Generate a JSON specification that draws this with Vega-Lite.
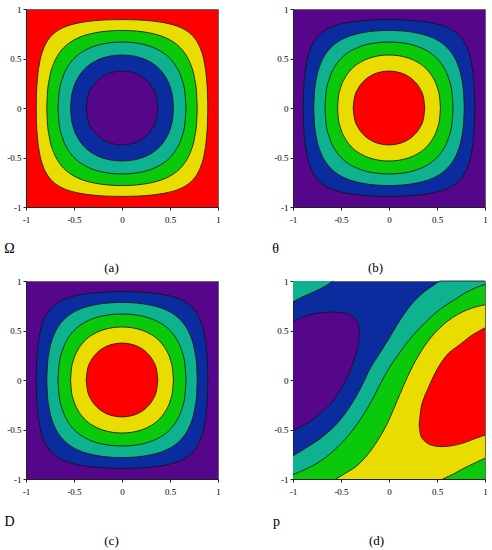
{
"$schema": "https://vega.github.io/schema/vega-lite/v6.json",
"padding": {"left": 3, "top": 4, "right": 0, "bottom": 0},
"bounds": "flush",
"columns": 2,
"spacing": {"row": 74, "column": 75},
"config": {
  "view": {"stroke": "#666", "strokeWidth": 1},
  "axis": {"labelFont": "Liberation Serif", "labelFontSize": 9, "labelColor": "#000", "tickSize": 3, "tickColor": "#222", "domainColor": "#222", "titleFont": "Liberation Serif", "titleFontSize": 13, "titleFontWeight": "normal", "titleColor": "#000", "labelFlush": false, "labelOverlap": false, "grid": false, "titleAlign": "center", "titleBaseline": "middle"},
  "axisX": {"labelPadding": 5},
  "axisY": {"labelPadding": 2}
},
"datasets": {
"rings": [
{"l":1,"x":-0.8934,"hi":0,"lo":0},{"l":1,"x":-0.8903,"hi":0.15,"lo":-0.15},{"l":1,"x":-0.8802,"hi":0.3,"lo":-0.3},{"l":1,"x":-0.8594,"hi":0.45,"lo":-0.45},{"l":1,"x":-0.817,"hi":0.6,"lo":-0.6},{"l":1,"x":-0.7816,"hi":0.67,"lo":-0.67},{"l":1,"x":-0.7323,"hi":0.7323,"lo":-0.7323},{"l":1,"x":-0.67,"hi":0.7816,"lo":-0.7816},{"l":1,"x":-0.6,"hi":0.817,"lo":-0.817},{"l":1,"x":-0.45,"hi":0.8594,"lo":-0.8594},{"l":1,"x":-0.3,"hi":0.8802,"lo":-0.8802},{"l":1,"x":-0.15,"hi":0.8903,"lo":-0.8903},{"l":1,"x":0,"hi":0.8934,"lo":-0.8934},{"l":1,"x":0.15,"hi":0.8903,"lo":-0.8903},{"l":1,"x":0.3,"hi":0.8802,"lo":-0.8802},{"l":1,"x":0.45,"hi":0.8594,"lo":-0.8594},{"l":1,"x":0.6,"hi":0.817,"lo":-0.817},{"l":1,"x":0.67,"hi":0.7816,"lo":-0.7816},{"l":1,"x":0.7323,"hi":0.7323,"lo":-0.7323},{"l":1,"x":0.7816,"hi":0.67,"lo":-0.67},{"l":1,"x":0.817,"hi":0.6,"lo":-0.6},{"l":1,"x":0.8594,"hi":0.45,"lo":-0.45},{"l":1,"x":0.8802,"hi":0.3,"lo":-0.3},{"l":1,"x":0.8903,"hi":0.15,"lo":-0.15},{"l":1,"x":0.8934,"hi":0,"lo":0},
{"l":2,"x":-0.7837,"hi":0,"lo":0},{"l":2,"x":-0.7772,"hi":0.15,"lo":-0.15},{"l":2,"x":-0.7558,"hi":0.3,"lo":-0.3},{"l":2,"x":-0.7111,"hi":0.45,"lo":-0.45},{"l":2,"x":-0.6762,"hi":0.52,"lo":-0.52},{"l":2,"x":-0.6497,"hi":0.56,"lo":-0.56},{"l":2,"x":-0.6082,"hi":0.6082,"lo":-0.6082},{"l":2,"x":-0.56,"hi":0.6497,"lo":-0.6497},{"l":2,"x":-0.52,"hi":0.6762,"lo":-0.6762},{"l":2,"x":-0.45,"hi":0.7111,"lo":-0.7111},{"l":2,"x":-0.3,"hi":0.7558,"lo":-0.7558},{"l":2,"x":-0.15,"hi":0.7772,"lo":-0.7772},{"l":2,"x":0,"hi":0.7837,"lo":-0.7837},{"l":2,"x":0.15,"hi":0.7772,"lo":-0.7772},{"l":2,"x":0.3,"hi":0.7558,"lo":-0.7558},{"l":2,"x":0.45,"hi":0.7111,"lo":-0.7111},{"l":2,"x":0.52,"hi":0.6762,"lo":-0.6762},{"l":2,"x":0.56,"hi":0.6497,"lo":-0.6497},{"l":2,"x":0.6082,"hi":0.6082,"lo":-0.6082},{"l":2,"x":0.6497,"hi":0.56,"lo":-0.56},{"l":2,"x":0.6762,"hi":0.52,"lo":-0.52},{"l":2,"x":0.7111,"hi":0.45,"lo":-0.45},{"l":2,"x":0.7558,"hi":0.3,"lo":-0.3},{"l":2,"x":0.7772,"hi":0.15,"lo":-0.15},{"l":2,"x":0.7837,"hi":0,"lo":0},
{"l":3,"x":-0.6667,"hi":0,"lo":0},{"l":3,"x":-0.6562,"hi":0.15,"lo":-0.15},{"l":3,"x":-0.6207,"hi":0.3,"lo":-0.3},{"l":3,"x":-0.5759,"hi":0.4,"lo":-0.4},{"l":3,"x":-0.5432,"hi":0.45,"lo":-0.45},{"l":3,"x":-0.5,"hi":0.5,"lo":-0.5},{"l":3,"x":-0.45,"hi":0.5432,"lo":-0.5432},{"l":3,"x":-0.4,"hi":0.5759,"lo":-0.5759},{"l":3,"x":-0.3,"hi":0.6207,"lo":-0.6207},{"l":3,"x":-0.15,"hi":0.6562,"lo":-0.6562},{"l":3,"x":0,"hi":0.6667,"lo":-0.6667},{"l":3,"x":0.15,"hi":0.6562,"lo":-0.6562},{"l":3,"x":0.3,"hi":0.6207,"lo":-0.6207},{"l":3,"x":0.4,"hi":0.5759,"lo":-0.5759},{"l":3,"x":0.45,"hi":0.5432,"lo":-0.5432},{"l":3,"x":0.5,"hi":0.5,"lo":-0.5},{"l":3,"x":0.5432,"hi":0.45,"lo":-0.45},{"l":3,"x":0.5759,"hi":0.4,"lo":-0.4},{"l":3,"x":0.6207,"hi":0.3,"lo":-0.3},{"l":3,"x":0.6562,"hi":0.15,"lo":-0.15},{"l":3,"x":0.6667,"hi":0,"lo":0},
{"l":4,"x":-0.5354,"hi":0,"lo":0},{"l":4,"x":-0.5283,"hi":0.1,"lo":-0.1},{"l":4,"x":-0.5055,"hi":0.2,"lo":-0.2},{"l":4,"x":-0.4618,"hi":0.3,"lo":-0.3},{"l":4,"x":-0.4286,"hi":0.35,"lo":-0.35},{"l":4,"x":-0.3918,"hi":0.3918,"lo":-0.3918},{"l":4,"x":-0.35,"hi":0.4286,"lo":-0.4286},{"l":4,"x":-0.3,"hi":0.4618,"lo":-0.4618},{"l":4,"x":-0.2,"hi":0.5055,"lo":-0.5055},{"l":4,"x":-0.1,"hi":0.5283,"lo":-0.5283},{"l":4,"x":0,"hi":0.5354,"lo":-0.5354},{"l":4,"x":0.1,"hi":0.5283,"lo":-0.5283},{"l":4,"x":0.2,"hi":0.5055,"lo":-0.5055},{"l":4,"x":0.3,"hi":0.4618,"lo":-0.4618},{"l":4,"x":0.35,"hi":0.4286,"lo":-0.4286},{"l":4,"x":0.3918,"hi":0.3918,"lo":-0.3918},{"l":4,"x":0.4286,"hi":0.35,"lo":-0.35},{"l":4,"x":0.4618,"hi":0.3,"lo":-0.3},{"l":4,"x":0.5055,"hi":0.2,"lo":-0.2},{"l":4,"x":0.5283,"hi":0.1,"lo":-0.1},{"l":4,"x":0.5354,"hi":0,"lo":0},
{"l":5,"x":-0.3729,"hi":0,"lo":0},{"l":5,"x":-0.3607,"hi":0.1,"lo":-0.1},{"l":5,"x":-0.3201,"hi":0.2,"lo":-0.2},{"l":5,"x":-0.2926,"hi":0.24,"lo":-0.24},{"l":5,"x":-0.2677,"hi":0.2677,"lo":-0.2677},{"l":5,"x":-0.24,"hi":0.2926,"lo":-0.2926},{"l":5,"x":-0.2,"hi":0.3201,"lo":-0.3201},{"l":5,"x":-0.1,"hi":0.3607,"lo":-0.3607},{"l":5,"x":0,"hi":0.3729,"lo":-0.3729},{"l":5,"x":0.1,"hi":0.3607,"lo":-0.3607},{"l":5,"x":0.2,"hi":0.3201,"lo":-0.3201},{"l":5,"x":0.24,"hi":0.2926,"lo":-0.2926},{"l":5,"x":0.2677,"hi":0.2677,"lo":-0.2677},{"l":5,"x":0.2926,"hi":0.24,"lo":-0.24},{"l":5,"x":0.3201,"hi":0.2,"lo":-0.2},{"l":5,"x":0.3607,"hi":0.1,"lo":-0.1},{"l":5,"x":0.3729,"hi":0,"lo":0}
],
"dreg": [
{"g":"tc","x":-1,"hi":1,"lo":0.79},{"g":"tc","x":-0.9,"hi":1,"lo":0.84},{"g":"tc","x":-0.783,"hi":1,"lo":0.89},{"g":"tc","x":-0.67,"hi":1,"lo":0.945},{"g":"tc","x":-0.58,"hi":1,"lo":1},
{"g":"pb","x":-1,"hi":0.583,"lo":-0.513},{"g":"pb","x":-0.9,"hi":0.637,"lo":-0.461},{"g":"pb","x":-0.8,"hi":0.665,"lo":-0.402},{"g":"pb","x":-0.7,"hi":0.68,"lo":-0.321},{"g":"pb","x":-0.6,"hi":0.686,"lo":-0.235},{"g":"pb","x":-0.5,"hi":0.683,"lo":-0.088},{"g":"pb","x":-0.45,"hi":0.672,"lo":-0.006},{"g":"pb","x":-0.4,"hi":0.655,"lo":0.099},{"g":"pb","x":-0.36,"hi":0.625,"lo":0.21},{"g":"pb","x":-0.33,"hi":0.585,"lo":0.313},{"g":"pb","x":-0.315,"hi":0.54,"lo":0.39},{"g":"pb","x":-0.309,"hi":0.477,"lo":0.477},
{"g":"t","x":-1,"hi":-0.765,"lo":-1},{"g":"t","x":-0.85,"hi":-0.677,"lo":-1},{"g":"t","x":-0.675,"hi":-0.56,"lo":-1},{"g":"t","x":-0.5,"hi":-0.393,"lo":-1},{"g":"t","x":-0.38,"hi":-0.227,"lo":-1},{"g":"t","x":-0.275,"hi":-0.043,"lo":-1},{"g":"t","x":-0.2,"hi":0.11,"lo":-1},{"g":"t","x":-0.1,"hi":0.265,"lo":-1},{"g":"t","x":0,"hi":0.42,"lo":-1},{"g":"t","x":0.086,"hi":0.56,"lo":-1},{"g":"t","x":0.19,"hi":0.71,"lo":-1},{"g":"t","x":0.33,"hi":0.86,"lo":-1},{"g":"t","x":0.47,"hi":0.96,"lo":-1},{"g":"t","x":0.54,"hi":1,"lo":-1},{"g":"t","x":1,"hi":1,"lo":-1},
{"g":"gr","x":-1,"hi":-0.955,"lo":-1},{"g":"gr","x":-0.85,"hi":-0.893,"lo":-1},{"g":"gr","x":-0.675,"hi":-0.793,"lo":-1},{"g":"gr","x":-0.5,"hi":-0.643,"lo":-1},{"g":"gr","x":-0.33,"hi":-0.443,"lo":-1},{"g":"gr","x":-0.19,"hi":-0.227,"lo":-1},{"g":"gr","x":-0.08,"hi":-0.02,"lo":-1},{"g":"gr","x":0,"hi":0.12,"lo":-1},{"g":"gr","x":0.1,"hi":0.26,"lo":-1},{"g":"gr","x":0.19,"hi":0.38,"lo":-1},{"g":"gr","x":0.33,"hi":0.535,"lo":-1},{"g":"gr","x":0.504,"hi":0.693,"lo":-1},{"g":"gr","x":0.679,"hi":0.81,"lo":-1},{"g":"gr","x":0.853,"hi":0.91,"lo":-1},{"g":"gr","x":1,"hi":0.967,"lo":-1},
{"g":"ye","x":-0.553,"hi":-1,"lo":-1},{"g":"ye","x":-0.45,"hi":-0.94,"lo":-1},{"g":"ye","x":-0.326,"hi":-0.86,"lo":-1},{"g":"ye","x":-0.151,"hi":-0.66,"lo":-1},{"g":"ye","x":-0.012,"hi":-0.427,"lo":-1},{"g":"ye","x":0.086,"hi":-0.207,"lo":-1},{"g":"ye","x":0.19,"hi":0.027,"lo":-1},{"g":"ye","x":0.295,"hi":0.227,"lo":-1},{"g":"ye","x":0.435,"hi":0.427,"lo":-1},{"g":"ye","x":0.609,"hi":0.593,"lo":-1},{"g":"ye","x":0.818,"hi":0.71,"lo":-1},{"g":"ye","x":1,"hi":0.76,"lo":-1},
{"g":"rb","x":0.314,"hi":-0.45,"lo":-0.45},{"g":"rb","x":0.33,"hi":-0.31,"lo":-0.56},{"g":"rb","x":0.365,"hi":-0.18,"lo":-0.61},{"g":"rb","x":0.4,"hi":-0.1,"lo":-0.64},{"g":"rb","x":0.47,"hi":0.05,"lo":-0.665},{"g":"rb","x":0.54,"hi":0.17,"lo":-0.673},{"g":"rb","x":0.61,"hi":0.26,"lo":-0.67},{"g":"rb","x":0.7,"hi":0.33,"lo":-0.655},{"g":"rb","x":0.78,"hi":0.39,"lo":-0.635},{"g":"rb","x":0.86,"hi":0.45,"lo":-0.605},{"g":"rb","x":0.93,"hi":0.49,"lo":-0.58},{"g":"rb","x":1,"hi":0.527,"lo":-0.557},
{"g":"gc","x":0.56,"hi":-1,"lo":-1},{"g":"gc","x":0.67,"hi":-0.95,"lo":-1},{"g":"gc","x":0.783,"hi":-0.89,"lo":-1},{"g":"gc","x":0.9,"hi":-0.835,"lo":-1},{"g":"gc","x":1,"hi":-0.79,"lo":-1}
]
},
"concat": [
 {"width": 192, "height": 198, "view": {"fill": "#ff0000"}, "data": {"name": "rings"},
  "encoding": {
   "x": {"field": "x", "type": "quantitative", "scale": {"domain": [-1, 1], "nice": false, "zero": false}, "axis": {"values": [-1, -0.5, 0, 0.5, 1], "labelExpr": "'' + datum.value", "title": "(a)", "titleX": 85, "titleY": 60}},
   "y": {"field": "hi", "type": "quantitative", "scale": {"domain": [-1, 1], "nice": false, "zero": false}, "axis": {"values": [-1, -0.5, 0, 0.5, 1], "labelExpr": "'' + datum.value", "title": "Ω", "titleX": -17, "titleY": 239, "titleAngle": 0, "titleFontSize": 14}},
   "y2": {"field": "lo"}
  },
  "layer": [
   {"transform": [{"filter": "datum.l == 1"}], "mark": {"type": "area", "fill": "#e9dc00", "stroke": "#111", "strokeWidth": 0.8, "opacity": 1, "interpolate": "monotone"}},
   {"transform": [{"filter": "datum.l == 2"}], "mark": {"type": "area", "fill": "#0ac80a", "stroke": "#111", "strokeWidth": 0.8, "opacity": 1, "interpolate": "monotone"}},
   {"transform": [{"filter": "datum.l == 3"}], "mark": {"type": "area", "fill": "#0fb28f", "stroke": "#111", "strokeWidth": 0.8, "opacity": 1, "interpolate": "monotone"}},
   {"transform": [{"filter": "datum.l == 4"}], "mark": {"type": "area", "fill": "#0a2c9e", "stroke": "#111", "strokeWidth": 0.8, "opacity": 1, "interpolate": "monotone"}},
   {"transform": [{"filter": "datum.l == 5"}], "mark": {"type": "area", "fill": "#56068a", "stroke": "#111", "strokeWidth": 0.8, "opacity": 1, "interpolate": "monotone"}}
  ]
 },
 {"width": 192, "height": 198, "view": {"fill": "#56068a"}, "data": {"name": "rings"},
  "encoding": {
   "x": {"field": "x", "type": "quantitative", "scale": {"domain": [-1, 1], "nice": false, "zero": false}, "axis": {"values": [-1, -0.5, 0, 0.5, 1], "labelExpr": "'' + datum.value", "title": "(b)", "titleX": 82, "titleY": 60}},
   "y": {"field": "hi", "type": "quantitative", "scale": {"domain": [-1, 1], "nice": false, "zero": false}, "axis": {"values": [-1, -0.5, 0, 0.5, 1], "labelExpr": "'' + datum.value", "title": "θ", "titleX": -18, "titleY": 239, "titleAngle": 0, "titleFontSize": 14}},
   "y2": {"field": "lo"}
  },
  "layer": [
   {"transform": [{"filter": "datum.l == 1"}], "mark": {"type": "area", "fill": "#0a2c9e", "stroke": "#111", "strokeWidth": 0.8, "opacity": 1, "interpolate": "monotone"}},
   {"transform": [{"filter": "datum.l == 2"}], "mark": {"type": "area", "fill": "#0fb28f", "stroke": "#111", "strokeWidth": 0.8, "opacity": 1, "interpolate": "monotone"}},
   {"transform": [{"filter": "datum.l == 3"}], "mark": {"type": "area", "fill": "#0ac80a", "stroke": "#111", "strokeWidth": 0.8, "opacity": 1, "interpolate": "monotone"}},
   {"transform": [{"filter": "datum.l == 4"}], "mark": {"type": "area", "fill": "#e9dc00", "stroke": "#111", "strokeWidth": 0.8, "opacity": 1, "interpolate": "monotone"}},
   {"transform": [{"filter": "datum.l == 5"}], "mark": {"type": "area", "fill": "#ff0000", "stroke": "#111", "strokeWidth": 0.8, "opacity": 1, "interpolate": "monotone"}}
  ]
 },
 {"width": 192, "height": 198, "view": {"fill": "#56068a"}, "data": {"name": "rings"},
  "encoding": {
   "x": {"field": "x", "type": "quantitative", "scale": {"domain": [-1, 1], "nice": false, "zero": false}, "axis": {"values": [-1, -0.5, 0, 0.5, 1], "labelExpr": "'' + datum.value", "title": "(c)", "titleX": 85, "titleY": 61}},
   "y": {"field": "hi", "type": "quantitative", "scale": {"domain": [-1, 1], "nice": false, "zero": false}, "axis": {"values": [-1, -0.5, 0, 0.5, 1], "labelExpr": "'' + datum.value", "title": "D", "titleX": -17, "titleY": 240, "titleAngle": 0, "titleFontSize": 14}},
   "y2": {"field": "lo"}
  },
  "layer": [
   {"transform": [{"filter": "datum.l == 1"}], "mark": {"type": "area", "fill": "#0a2c9e", "stroke": "#111", "strokeWidth": 0.8, "opacity": 1, "interpolate": "monotone"}},
   {"transform": [{"filter": "datum.l == 2"}], "mark": {"type": "area", "fill": "#0fb28f", "stroke": "#111", "strokeWidth": 0.8, "opacity": 1, "interpolate": "monotone"}},
   {"transform": [{"filter": "datum.l == 3"}], "mark": {"type": "area", "fill": "#0ac80a", "stroke": "#111", "strokeWidth": 0.8, "opacity": 1, "interpolate": "monotone"}},
   {"transform": [{"filter": "datum.l == 4"}], "mark": {"type": "area", "fill": "#e9dc00", "stroke": "#111", "strokeWidth": 0.8, "opacity": 1, "interpolate": "monotone"}},
   {"transform": [{"filter": "datum.l == 5"}], "mark": {"type": "area", "fill": "#ff0000", "stroke": "#111", "strokeWidth": 0.8, "opacity": 1, "interpolate": "monotone"}}
  ]
 },
 {"width": 192, "height": 198, "view": {"fill": "#0a2c9e"}, "data": {"name": "dreg"},
  "encoding": {
   "x": {"field": "x", "type": "quantitative", "scale": {"domain": [-1, 1], "nice": false, "zero": false}, "axis": {"values": [-1, -0.5, 0, 0.5, 1], "labelExpr": "'' + datum.value", "title": "(d)", "titleX": 83, "titleY": 61}},
   "y": {"field": "hi", "type": "quantitative", "scale": {"domain": [-1, 1], "nice": false, "zero": false}, "axis": {"values": [-1, -0.5, 0, 0.5, 1], "labelExpr": "'' + datum.value", "title": "p", "titleX": -17, "titleY": 240, "titleAngle": 0, "titleFontSize": 14}}
  },
  "layer": [
   {"transform": [{"filter": "datum.g == 'tc'"}], "mark": {"type": "area", "fill": "#0fb28f", "opacity": 1, "interpolate": "monotone"}, "encoding": {"y2": {"field": "lo"}}},
   {"transform": [{"filter": "datum.g == 'pb'"}], "mark": {"type": "area", "fill": "#56068a", "opacity": 1, "interpolate": "monotone"}, "encoding": {"y2": {"field": "lo"}}},
   {"transform": [{"filter": "datum.g == 't'"}], "mark": {"type": "area", "fill": "#0fb28f", "opacity": 1, "interpolate": "monotone"}, "encoding": {"y2": {"field": "lo"}}},
   {"transform": [{"filter": "datum.g == 'gr'"}], "mark": {"type": "area", "fill": "#0ac80a", "opacity": 1, "interpolate": "monotone"}, "encoding": {"y2": {"field": "lo"}}},
   {"transform": [{"filter": "datum.g == 'ye'"}], "mark": {"type": "area", "fill": "#e9dc00", "opacity": 1, "interpolate": "monotone"}, "encoding": {"y2": {"field": "lo"}}},
   {"transform": [{"filter": "datum.g == 'rb'"}], "mark": {"type": "area", "fill": "#ff0000", "opacity": 1, "interpolate": "monotone"}, "encoding": {"y2": {"field": "lo"}}},
   {"transform": [{"filter": "datum.g == 'gc'"}], "mark": {"type": "area", "fill": "#0ac80a", "opacity": 1, "interpolate": "monotone"}, "encoding": {"y2": {"field": "lo"}}},
   {"transform": [{"filter": {"field": "g", "oneOf": ["t", "gr", "ye", "pb", "rb", "gc"]}}], "mark": {"type": "line", "stroke": "#111", "strokeWidth": 0.8, "interpolate": "monotone"}, "encoding": {"detail": {"field": "g"}}},
   {"transform": [{"filter": {"field": "g", "oneOf": ["pb", "rb", "tc"]}}], "mark": {"type": "line", "stroke": "#111", "strokeWidth": 0.8, "interpolate": "monotone"}, "encoding": {"detail": {"field": "g"}, "y": {"field": "lo", "type": "quantitative", "scale": {"domain": [-1, 1], "nice": false, "zero": false}, "axis": {"values": [-1, -0.5, 0, 0.5, 1], "labelExpr": "'' + datum.value", "title": "p", "titleX": -17, "titleY": 240, "titleAngle": 0, "titleFontSize": 14}}}}
  ]
 }
]
}
